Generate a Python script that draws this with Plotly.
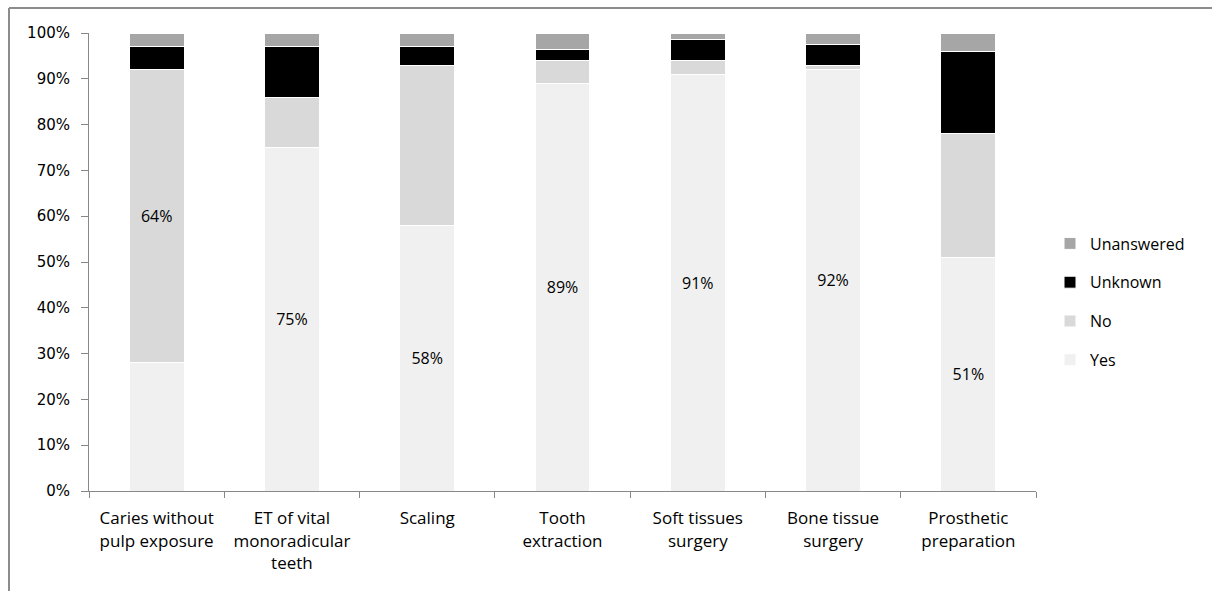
import plotly.graph_objects as go

# Procedures surveyed
categories = [
    "Caries without<br>pulp exposure",
    "ET of vital<br>monoradicular<br>teeth",
    "Scaling",
    "Tooth<br>extraction",
    "Soft tissues<br>surgery",
    "Bone tissue<br>surgery",
    "Prosthetic<br>preparation",
]

# Share of answers per procedure (%)
yes_vals = [28, 75, 58, 89, 91, 92, 51]
no_vals = [64, 11, 35, 5, 3, 1, 27]
unknown_vals = [5, 11, 4, 2.5, 4.5, 4.5, 18]
unanswered_vals = [3, 3, 3, 3.5, 1.5, 2.5, 4]

# Segment labels shown inside the bars
yes_labels = ["", "75%", "58%", "89%", "91%", "92%", "51%"]
no_labels = ["64%", "", "", "", "", "", ""]

# (name, values, colour, labels, legend rank)
series = [
    ("Yes", yes_vals, "#f0f0f0", yes_labels, 4),
    ("No", no_vals, "#d9d9d9", no_labels, 3),
    ("Unknown", unknown_vals, "#000000", None, 2),
    ("Unanswered", unanswered_vals, "#a6a6a6", None, 1),
]

FONT = "Open Sans"

fig = go.Figure()
for name, vals, color, labels, rank in series:
    fig.add_trace(go.Bar(
        name=name,
        x=categories,
        y=vals,
        marker=dict(color=color, line=dict(color="white", width=1)),
        text=labels,
        textposition="inside" if labels else "none",
        insidetextanchor="middle",
        textangle=0,
        textfont=dict(family=FONT, size=16, color="#000000"),
        legendgroup=name,
        legendrank=rank,
        hoverinfo="x+y+name",
    ))

W, H = 1212, 591
ml, mr, mt, mb = 89, 176, 33, 100
pw, ph = W - ml - mr, H - mt - mb

def px_x(p):
    return (p - ml) / pw

def px_y(p):
    return (H - mb - p) / ph

fig.update_layout(
    width=W, height=H,
    margin=dict(l=ml, r=mr, t=mt, b=mb),
    barmode="stack",
    bargap=0.594,
    plot_bgcolor="white",
    paper_bgcolor="white",
    font=dict(family=FONT, size=16, color="#000000"),
    showlegend=True,
    legend=dict(
        traceorder="grouped",
        tracegroupgap=15,
        x=px_x(1050), xanchor="left",
        y=px_y(302), yanchor="middle",
        font=dict(family=FONT, size=16, color="#000000"),
        itemwidth=30,
        bgcolor="rgba(0,0,0,0)",
    ),
    xaxis=dict(
        showline=True, linecolor="#888888", linewidth=1,
        ticks="outside", tickson="boundaries", ticklen=6, tickcolor="#888888",
        tickfont=dict(family=FONT, size=17, color="#000000"),
        ticklabelstandoff=12,
        showgrid=False,
    ),
    yaxis=dict(
        range=[0, 100], dtick=10, ticksuffix="%",
        showline=True, linecolor="#888888", linewidth=1,
        ticks="outside", ticklen=7, tickcolor="#888888",
        tickfont=dict(family="DejaVu Sans", size=15, color="#000000"),
        ticklabelstandoff=8,
        showgrid=False, zeroline=False,
    ),
    shapes=[
        # chart frame: top and left edges
        dict(type="line", xref="paper", yref="paper",
             x0=px_x(9), x1=px_x(1212), y0=px_y(8), y1=px_y(8),
             line=dict(color="#8c8c8c", width=2)),
        dict(type="line", xref="paper", yref="paper",
             x0=px_x(9), x1=px_x(9), y0=px_y(8), y1=px_y(591),
             line=dict(color="#8c8c8c", width=2)),
    ],
)

fig.write_html("out.html")
